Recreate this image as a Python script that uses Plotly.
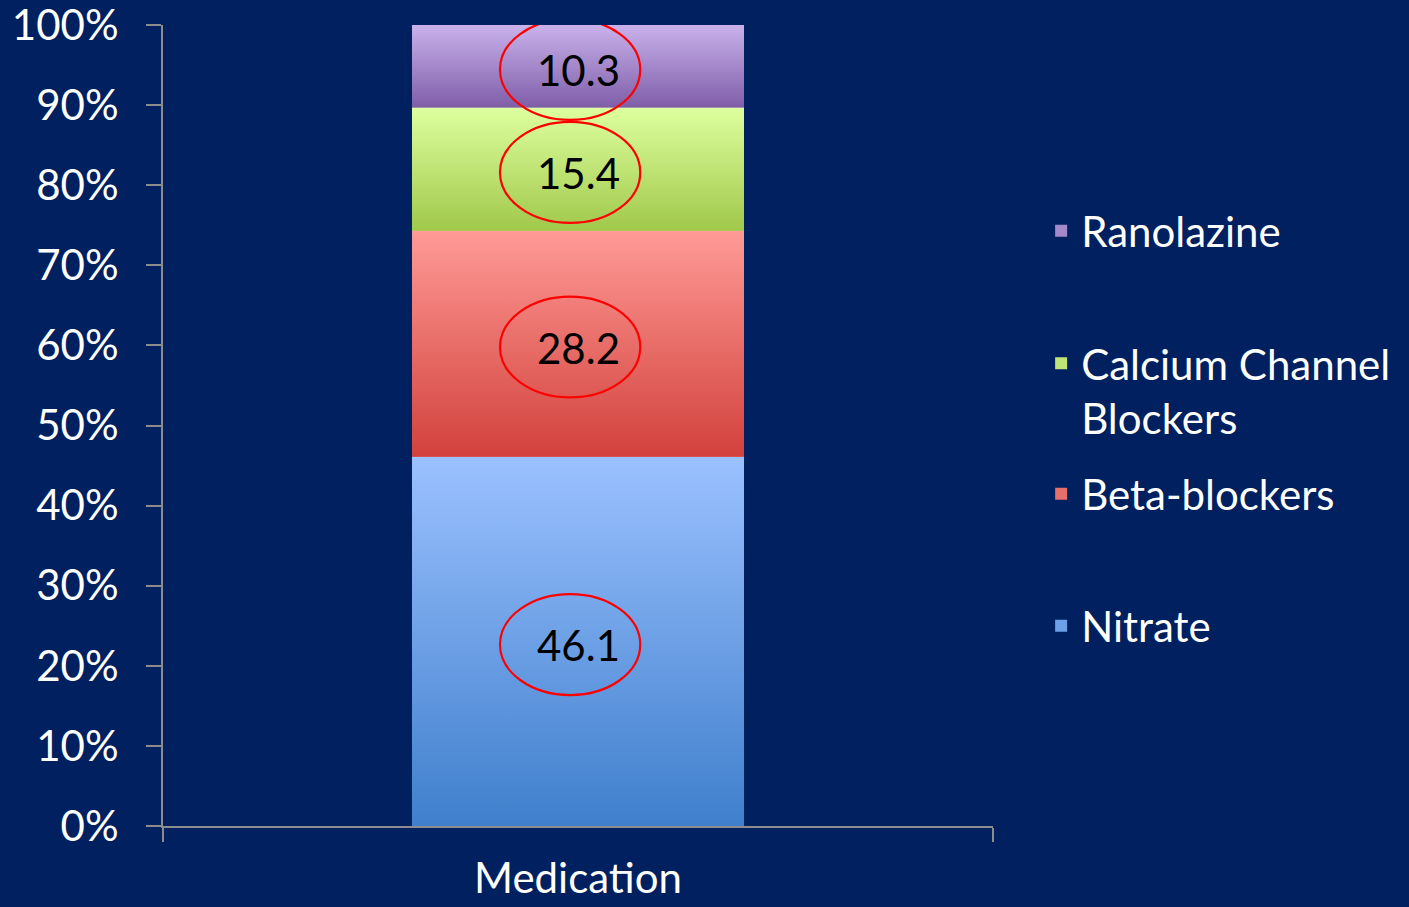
import plotly.graph_objects as go

# ---- data ----
categories = ["Medication"]
series_names = ["Nitrate", "Beta-blockers", "Calcium Channel Blockers", "Ranolazine"]
legend_labels = ["Nitrate", "Beta-blockers", "Calcium Channel<br>Blockers", "Ranolazine"]
nitrate = [46.1]
beta_blockers = [28.2]
calcium_channel_blockers = [15.4]
ranolazine = [10.3]
y_tick_values = [0, 10, 20, 30, 40, 50, 60, 70, 80, 90, 100]
y_tick_labels = ["0%", "10%", "20%", "30%", "40%", "50%", "60%", "70%", "80%", "90%", "100%"]

series_values = [nitrate, beta_blockers, calcium_channel_blockers, ranolazine]

# ---- styles ----
top_colors = ["#9BC1FF", "#FF9A96", "#DEFF9F", "#C9B2EC"]
bottom_colors = ["#3F7FCC", "#D2413C", "#A0C84A", "#7F5EA8"]
mid_colors = ["#6DA0E6", "#E86E69", "#BFE374", "#A488CA"]
legend_ids = ["legend4", "legend3", "legend2", "legend"]
legend_y = [0.2497, 0.4145, 0.543, 0.743]

BG = "#002060"
AXIS = "#8C8C8C"
FONT = "Lato"
FS = 42
BAR_W = 0.4

fig = go.Figure()

# bars (legend entries)
for name, lab, vals, col, lid in zip(series_names, legend_labels, series_values, mid_colors, legend_ids):
    fig.add_trace(go.Bar(
        x=[0], y=vals, name=lab, width=BAR_W, marker=dict(color=col, line=dict(width=0)),
        legend=lid, hovertemplate=name + ": %{y}<extra></extra>",
    ))

# gradient overlays computed from the same data
base = 0.0
mids = []
for name, vals, tc, bc in zip(series_names, series_values, top_colors, bottom_colors):
    v = vals[0]
    top = base + v
    mids.append(base + v / 2)
    fig.add_trace(go.Scatter(
        x=[-BAR_W / 2, BAR_W / 2, BAR_W / 2, -BAR_W / 2, -BAR_W / 2],
        y=[base, base, top, top, base],
        mode="lines", line=dict(width=0), fill="toself",
        fillgradient=dict(type="vertical", colorscale=[[0, bc], [1, tc]], start=base, stop=top),
        showlegend=False, hoverinfo="skip",
    ))
    base = top

# data labels and red ellipses around them
annotations = []
shapes = []
for m, vals in zip(mids, series_values):
    annotations.append(dict(
        x=0, y=m, xref="x", yref="y", text=f"{vals[0]:.1f}", showarrow=False,
        xanchor="center", yanchor="middle", yshift=-4,
        font=dict(family=FONT, size=FS, color="black"),
    ))
    shapes.append(dict(type="circle", xref="x", yref="y",
                       x0=-0.094, x1=0.075, y0=m - 6.7, y1=m + 5.9,
                       line=dict(color="#FF0000", width=2.2), fillcolor="rgba(0,0,0,0)"))

legends = {}
for lid, ly in zip(legend_ids, legend_y):
    legends[lid] = dict(
        x=1.058, xanchor="left", y=ly, yanchor="middle",
        bgcolor="rgba(0,0,0,0)", font=dict(family=FONT, size=FS, color="white"),
        valign="top", itemclick=False, itemdoubleclick=False,
    )

fig.update_layout(
    width=1409, height=907, autosize=False,
    paper_bgcolor=BG, plot_bgcolor=BG,
    margin=dict(l=163, r=416, t=25, b=81, autoexpand=False),
    barmode="stack",
    shapes=shapes,
    annotations=annotations,
    font=dict(family=FONT, size=FS, color="white"),
    xaxis=dict(
        range=[-0.5, 0.5], tickvals=[0], ticktext=categories, ticks="",
        showline=True, linecolor=AXIS, linewidth=2, showgrid=False, zeroline=False,
        minor=dict(tickvals=[-0.5, 0.5], ticks="outside", ticklen=14, tickwidth=2, tickcolor=AXIS, showgrid=False),
        tickfont=dict(family=FONT, size=FS, color="white"), ticklabelstandoff=15,
        automargin=False, ticklabeloverflow="allow", fixedrange=True,
    ),
    yaxis=dict(
        range=[0, 100], tickvals=y_tick_values, ticktext=y_tick_labels,
        ticks="outside", ticklen=15, tickwidth=2, tickcolor=AXIS,
        showline=True, linecolor=AXIS, linewidth=2, showgrid=False, zeroline=False,
        tickfont=dict(family=FONT, size=FS, color="white"), ticklabelstandoff=19,
        automargin=False, ticklabeloverflow="allow", fixedrange=True,
    ),
    **legends,
)

fig.write_html("out.html")
